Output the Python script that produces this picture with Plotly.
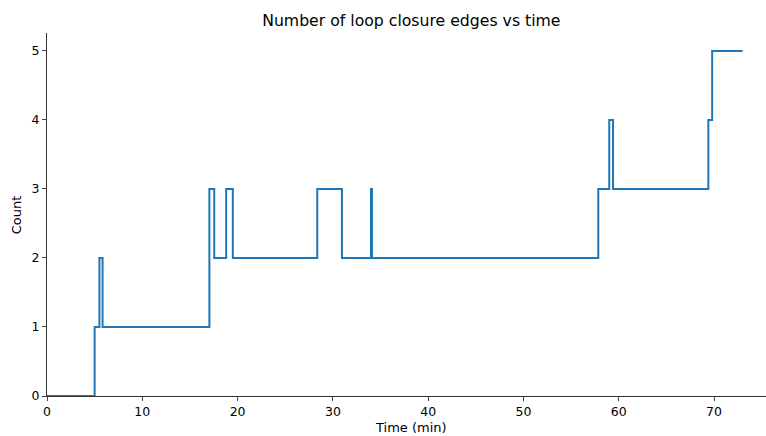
import plotly.graph_objects as go

# Step change times (min) and count values
times = [0, 5.0, 5.5, 5.83, 17.04, 17.55, 18.8, 19.5, 28.36, 30.95, 34.0, 34.1, 57.85, 59.0, 59.4, 69.4, 69.8, 73.0]
counts = [0, 1, 2, 1, 3, 2, 3, 2, 3, 2, 3, 2, 3, 4, 3, 4, 5, 5]
x_ticks = [0, 10, 20, 30, 40, 50, 60, 70]
y_ticks = [0, 1, 2, 3, 4, 5]

fig = go.Figure()
fig.add_trace(go.Scatter(x=times, y=counts, mode="lines", line_shape="hv",
                         line=dict(color="#1f77b4", width=2), showlegend=False))

font = "DejaVu Sans, Arial, sans-serif"
fig.update_layout(
    width=766, height=436,
    margin=dict(l=47, r=0, t=33, b=40),
    paper_bgcolor="white", plot_bgcolor="white",
    font=dict(family=font, size=12.5, color="black"),
    title=dict(text="Number of loop closure edges vs time", x=0.537, xanchor="center",
               y=0.953, yanchor="middle", font=dict(size=15.7, family=font)),
    annotations=[
        dict(text="Time (min)", xref="paper", yref="paper", x=0.506, y=-0.088,
             xanchor="center", yanchor="middle", showarrow=False, font=dict(size=13)),
        dict(text="Count", xref="paper", yref="paper", x=-0.042, y=0.5, textangle=-90,
             xanchor="center", yanchor="middle", showarrow=False, font=dict(size=13)),
    ],
)
fig.update_xaxes(range=[0, 75.45], tickvals=x_ticks, ticks="outside", ticklen=4,
                 showline=True, linecolor="#333", linewidth=1, showgrid=False, zeroline=False)
fig.update_yaxes(range=[0, 5.26], tickvals=y_ticks, ticks="outside", ticklen=4,
                 showline=True, linecolor="#333", linewidth=1, showgrid=False, zeroline=False)

fig.write_html("out.html")
